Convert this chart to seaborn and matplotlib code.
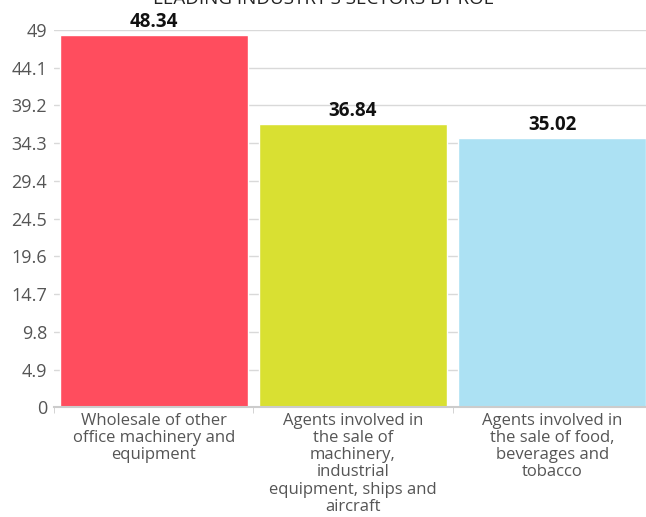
import pandas as pd
import seaborn as sns
import matplotlib.pyplot as plt

sectors = ['Wholesale of other\noffice machinery and\nequipment',
           'Agents involved in\nthe sale of\nmachinery,\nindustrial\nequipment, ships and\naircraft',
           'Agents involved in\nthe sale of food,\nbeverages and\ntobacco']
roe = [48.34, 36.84, 35.02]
colors = ['#FF4D5E', '#D9E032', '#ACE1F3']
yticks = [0, 4.9, 9.8, 14.7, 19.6, 24.5, 29.4, 34.3, 39.2, 44.1, 49]

df = pd.DataFrame({'sector': sectors, 'roe': roe})

sns.set_style('white')
plt.rcParams['font.family'] = ['Open Sans', 'DejaVu Sans']

fig = plt.figure(figsize=(6.46, 5.17), dpi=100)
ax = fig.add_axes([0.0836, 0.2122, 0.9164, 0.730])

sns.barplot(data=df, x='sector', y='roe', hue='sector', palette=colors,
            width=0.942, dodge=False, legend=False, saturation=1, ax=ax)

for i, v in enumerate(roe):
    ax.annotate(f'{v:.2f}', (i, v), xytext=(0, 2), textcoords='offset points',
                ha='center', va='bottom', fontsize=13.5, fontweight='bold', color='#111111')

ax.set_ylim(0, 49)
ax.set_xlim(-0.5, 2.47)
ax.set_yticks(yticks)
ax.set_yticklabels([f'{t:g}' for t in yticks], fontsize=13, color='#555555')
ax.yaxis.grid(True, color='#d9d9d9', linewidth=1)
ax.set_axisbelow(True)
ax.tick_params(axis='y', length=0, pad=5)
ax.tick_params(axis='x', which='major', length=0, labelsize=12, labelcolor='#555555', pad=4)
for lbl in ax.get_xticklabels():
    lbl.set_linespacing(1.1)
ax.set_xticks([-0.5, 0.5, 1.5], minor=True)
ax.tick_params(axis='x', which='minor', length=4, color='#cccccc', bottom=True)
ax.set_xlabel('')
ax.set_ylabel('')
for s in ['top', 'right', 'left']:
    ax.spines[s].set_visible(False)
ax.spines['bottom'].set_color('#cccccc')
ax.spines['bottom'].set_linewidth(1.5)

fig.text(0.501, 0.992, "LEADING INDUSTRY'S SECTORS BY ROE", ha='center', va='baseline',
         fontsize=13.5, color='#222222')

fig.savefig('out.png', dpi=100)
